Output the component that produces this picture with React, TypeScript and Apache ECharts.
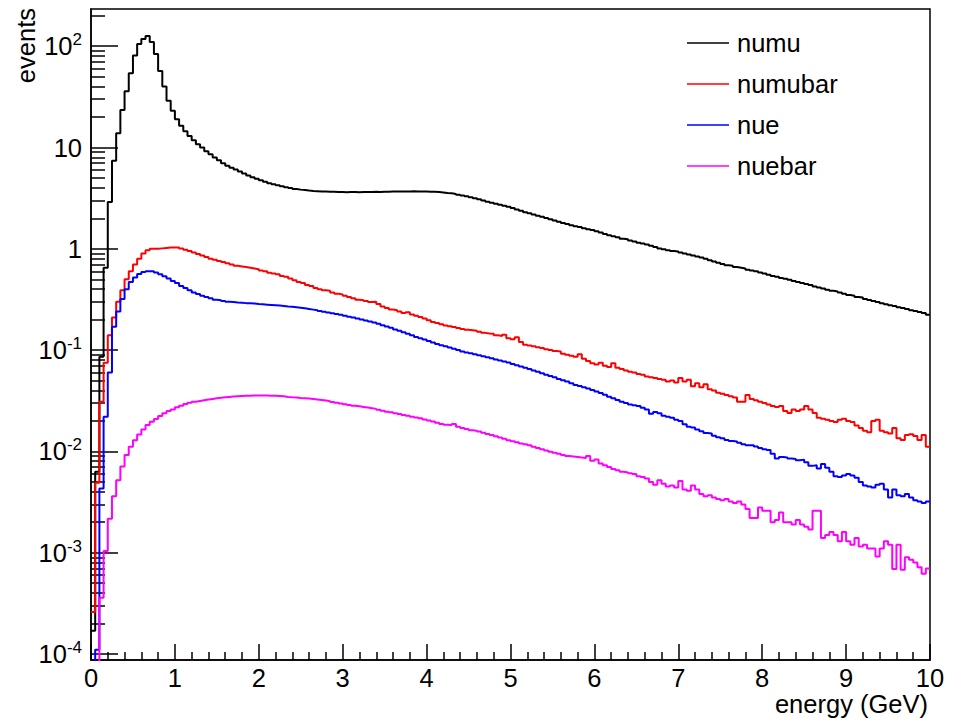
import React, { useEffect, useRef } from "react";
import * as echarts from "echarts";

// Histogram: 200 bins of 0.05 GeV from 0 to 10 GeV
const binWidth = 0.05;
const xMax = 10;

const numu = [
  0.00017, 0.0063, 0.086, 0.65, 2.9, 7.4, 13.8, 23.4, 36, 54,
  81, 105, 118, 126, 110, 84, 57, 40, 29, 23,
  19, 16.4, 14.5, 13, 11.8, 10.8, 10, 9.2, 8.6, 7.95,
  7.5, 7.0, 6.6, 6.3, 6.05, 5.8, 5.55, 5.3, 5.1, 4.93,
  4.75, 4.6, 4.45, 4.35, 4.25, 4.15, 4.05, 3.98, 3.9, 3.84,
  3.8, 3.76, 3.73, 3.71, 3.69, 3.68, 3.66, 3.65, 3.63, 3.64,
  3.62, 3.63, 3.63, 3.62, 3.64, 3.63, 3.63, 3.65, 3.64, 3.66,
  3.66, 3.67, 3.68, 3.67, 3.69, 3.69, 3.7, 3.69, 3.69, 3.68,
  3.66, 3.65, 3.63, 3.6, 3.56, 3.53, 3.48, 3.42, 3.36, 3.3,
  3.23, 3.15, 3.08, 3.0, 2.92, 2.85, 2.79, 2.72, 2.66, 2.6,
  2.53, 2.45, 2.38, 2.3, 2.24, 2.18, 2.12, 2.07, 2.01, 1.96,
  1.9, 1.85, 1.8, 1.76, 1.71, 1.67, 1.64, 1.6, 1.56, 1.53,
  1.49, 1.45, 1.4, 1.36, 1.33, 1.3, 1.26, 1.24, 1.21, 1.18,
  1.15, 1.13, 1.1, 1.07, 1.04, 1.01, 0.99, 0.97, 0.95, 0.94,
  0.92, 0.9, 0.88, 0.86, 0.84, 0.82, 0.8, 0.77, 0.75, 0.73,
  0.71, 0.69, 0.68, 0.66, 0.65, 0.64, 0.62, 0.61, 0.6, 0.585,
  0.57, 0.555, 0.54, 0.53, 0.515, 0.505, 0.495, 0.48, 0.47, 0.46,
  0.45, 0.44, 0.425, 0.415, 0.405, 0.395, 0.385, 0.38, 0.37, 0.36,
  0.35, 0.345, 0.335, 0.33, 0.32, 0.312, 0.305, 0.298, 0.29, 0.284,
  0.278, 0.272, 0.265, 0.26, 0.254, 0.248, 0.243, 0.238, 0.232, 0.224,
];

const numubar = [
  0.00026, 0.0049, 0.031, 0.075, 0.14, 0.21, 0.3, 0.39, 0.5, 0.6,
  0.7, 0.8, 0.9, 0.97, 1.0, 1.0, 1.01, 1.02, 1.03, 1.03,
  1.03, 1.01, 0.98, 0.95, 0.92, 0.89, 0.86, 0.83, 0.8, 0.78,
  0.76, 0.74, 0.72, 0.7, 0.68, 0.67, 0.66, 0.65, 0.64, 0.63,
  0.61, 0.6, 0.58, 0.57, 0.56, 0.54, 0.53, 0.51, 0.49, 0.47,
  0.46, 0.44, 0.43, 0.41, 0.4, 0.39, 0.385, 0.37, 0.36, 0.355,
  0.345, 0.335, 0.325, 0.315, 0.31, 0.305, 0.298, 0.3, 0.285, 0.27,
  0.26, 0.252, 0.248, 0.24, 0.232, 0.236, 0.225, 0.218, 0.212, 0.205,
  0.197, 0.19, 0.185, 0.18, 0.175, 0.172, 0.169, 0.165, 0.162, 0.159,
  0.157, 0.155, 0.152, 0.148, 0.146, 0.145, 0.14, 0.138, 0.142, 0.131,
  0.128, 0.134, 0.12, 0.113, 0.111, 0.109, 0.107, 0.105, 0.102, 0.1,
  0.098, 0.097, 0.092, 0.09, 0.088, 0.086, 0.091, 0.082, 0.078, 0.074,
  0.072, 0.075, 0.07, 0.068, 0.074, 0.067, 0.065, 0.063, 0.061, 0.06,
  0.058, 0.057, 0.055, 0.054, 0.053, 0.052, 0.051, 0.049, 0.05, 0.048,
  0.053, 0.049, 0.051, 0.044, 0.047, 0.043, 0.046, 0.041, 0.04, 0.038,
  0.037, 0.036, 0.035, 0.034, 0.031, 0.031, 0.036, 0.033, 0.032, 0.031,
  0.03, 0.029, 0.028, 0.0275, 0.028, 0.025, 0.024, 0.026, 0.025, 0.026,
  0.028, 0.026, 0.024, 0.0215, 0.021, 0.0205, 0.02, 0.0195, 0.0205, 0.021,
  0.02, 0.0195, 0.018, 0.017, 0.016, 0.0155, 0.02, 0.0205, 0.016, 0.0155,
  0.015, 0.017, 0.0135, 0.013, 0.0145, 0.0148, 0.0142, 0.013, 0.0145, 0.0111,
];

const nue = [
  1e-6, 0.00011, 0.0043, 0.022, 0.06, 0.17, 0.24, 0.32, 0.4, 0.47,
  0.52, 0.565, 0.59, 0.6, 0.6, 0.585, 0.56, 0.535, 0.51, 0.48,
  0.46, 0.43, 0.41, 0.39, 0.37, 0.358, 0.345, 0.335, 0.325, 0.315,
  0.31, 0.305, 0.3, 0.298, 0.295, 0.293, 0.291, 0.29, 0.288, 0.285,
  0.283, 0.281, 0.279, 0.277, 0.275, 0.273, 0.27, 0.268, 0.265, 0.262,
  0.259, 0.255, 0.251, 0.247, 0.243, 0.239, 0.235, 0.231, 0.227, 0.223,
  0.219, 0.214, 0.21, 0.205, 0.2, 0.196, 0.192, 0.187, 0.182, 0.176,
  0.171, 0.166, 0.16, 0.155, 0.15, 0.145, 0.14, 0.135, 0.131, 0.127,
  0.123, 0.119, 0.115, 0.112, 0.109, 0.106, 0.103, 0.1, 0.097, 0.095,
  0.093, 0.091, 0.089, 0.087, 0.085, 0.083, 0.081, 0.079, 0.077, 0.0754,
  0.073, 0.071, 0.069, 0.067, 0.065, 0.063, 0.061, 0.059, 0.057, 0.0555,
  0.054, 0.052, 0.0505, 0.049, 0.047, 0.0453, 0.0442, 0.043, 0.0418, 0.0405,
  0.039, 0.0378, 0.0362, 0.0347, 0.0335, 0.0322, 0.031, 0.03, 0.029, 0.0285,
  0.028, 0.027, 0.026, 0.0235, 0.0245, 0.0238, 0.0225, 0.022, 0.0215, 0.0205,
  0.02, 0.0185, 0.0175, 0.0172, 0.0165, 0.0158, 0.0152, 0.015, 0.0143, 0.0138,
  0.0135, 0.013, 0.0127, 0.0125, 0.0122, 0.0118, 0.0115, 0.0115, 0.0112, 0.0108,
  0.0105, 0.0103, 0.0095, 0.0085, 0.0088, 0.0087, 0.0085, 0.0084, 0.0082, 0.0083,
  0.0078, 0.0072, 0.0073, 0.0068, 0.0075, 0.0069, 0.0063, 0.0057, 0.0056, 0.0058,
  0.006, 0.0058, 0.0055, 0.005, 0.0046, 0.0045, 0.0044, 0.0047, 0.0048, 0.0042,
  0.0035, 0.0042, 0.0037, 0.0036, 0.0038, 0.0035, 0.0033, 0.0032, 0.0031, 0.0032,
];

const nuebar = [
  1e-6, 1e-6, 0.00036, 0.00104, 0.00217, 0.0036, 0.0052, 0.0071, 0.0092, 0.0111,
  0.0129, 0.0147, 0.0165, 0.0182, 0.0196, 0.0209, 0.0224, 0.0238, 0.025, 0.026,
  0.0273, 0.0283, 0.0294, 0.0303, 0.031, 0.0315, 0.032, 0.0325, 0.033, 0.0335,
  0.0338, 0.0342, 0.0345, 0.0348, 0.035, 0.0352, 0.0354, 0.0355, 0.0356, 0.0356,
  0.0357, 0.0356, 0.0355, 0.0355, 0.0353, 0.035, 0.0345, 0.0342, 0.034, 0.0337,
  0.0335, 0.0333, 0.033, 0.0326, 0.0322, 0.0318, 0.0313, 0.0308, 0.0303, 0.0298,
  0.0293, 0.0288, 0.0283, 0.0279, 0.0275, 0.0271, 0.0267, 0.0263, 0.0258, 0.0252,
  0.0247, 0.0243, 0.0238, 0.0234, 0.0229, 0.0225, 0.022, 0.0216, 0.0212, 0.0207,
  0.0202, 0.0197, 0.0192, 0.0186, 0.0183, 0.0182, 0.0186, 0.0175, 0.017, 0.0166,
  0.0162, 0.016, 0.0157, 0.0153, 0.0149, 0.0145, 0.0141, 0.0137, 0.0133, 0.0129,
  0.0126, 0.0123, 0.012, 0.0118, 0.0115, 0.0111, 0.0108, 0.0105, 0.0102, 0.0099,
  0.0097, 0.0095, 0.0092, 0.009, 0.0089, 0.0088, 0.0087, 0.0086, 0.009, 0.0081,
  0.0083, 0.0076, 0.0073, 0.007, 0.0067, 0.0065, 0.0063, 0.0062, 0.0061, 0.006,
  0.0057, 0.0056, 0.0054, 0.005, 0.0047, 0.0052, 0.0048, 0.0045, 0.0046, 0.0044,
  0.0051, 0.0042, 0.0041, 0.0046, 0.0042, 0.0038, 0.0036, 0.0037, 0.0035, 0.0034,
  0.0033, 0.0034, 0.0032, 0.0031, 0.0032, 0.003, 0.0027, 0.0022, 0.0022, 0.0028,
  0.0026, 0.0026, 0.002, 0.0021, 0.0025, 0.002, 0.002, 0.0019, 0.0021, 0.0019,
  0.0018, 0.0017, 0.0026, 0.0026, 0.0014, 0.0015, 0.0016, 0.0015, 0.0013, 0.0016,
  0.0013, 0.0012, 0.0014, 0.00115, 0.0012, 0.0011, 0.0011, 0.00092, 0.0011, 0.0013,
  0.0012, 0.00069, 0.0012, 0.00068, 0.0009, 0.00085, 0.0008, 0.00072, 0.00062, 0.0007,
];

const seriesNames = ["numu", "numubar", "nue", "nuebar"];
const seriesColors = ["#000000", "#ff0000", "#0000ff", "#ff00ff"];
const seriesValues = [numu, numubar, nue, nuebar];

const xTitle = "energy (GeV)";
const yTitle = "events";

const yMin = 8.73e-5;
const yMax = 233;
const yMajorTicks = [1e-4, 1e-3, 1e-2, 1e-1, 1, 10, 100];
const yMinorTicks = [
  2e-4, 3e-4, 4e-4, 5e-4, 6e-4, 7e-4, 8e-4, 9e-4,
  2e-3, 3e-3, 4e-3, 5e-3, 6e-3, 7e-3, 8e-3, 9e-3,
  2e-2, 3e-2, 4e-2, 5e-2, 6e-2, 7e-2, 8e-2, 9e-2,
  0.2, 0.3, 0.4, 0.5, 0.6, 0.7, 0.8, 0.9,
  2, 3, 4, 5, 6, 7, 8, 9,
  20, 30, 40, 50, 60, 70, 80, 90,
  200,
];

const FONT = "'Liberation Sans', Arial, Helvetica, sans-serif";
const FS = 25.5;

function histData(vals: number[]) {
  const pts: [number, number][] = vals.map((v, i) => [i * binWidth, v]);
  pts.push([xMax, vals[vals.length - 1]]);
  return pts;
}

function yLabel(v: number) {
  const e = Math.round(Math.log10(v));
  if (e === 0) return "{b|1}";
  if (e === 1) return "{b|10}";
  return "{b|10}{s|" + e + "}";
}

export default function App() {
  const ref = useRef<HTMLDivElement>(null);

  useEffect(() => {
    if (!ref.current) return;
    const chart = echarts.init(ref.current, null, { renderer: "svg" });
    const option: any = {
      animation: false,
      backgroundColor: "#ffffff",
      textStyle: { fontFamily: FONT },
      grid: {
        left: 91,
        right: 23,
        top: 9,
        bottom: 61,
        show: true,
        borderColor: "#000",
        borderWidth: 1.5,
        backgroundColor: "transparent",
        containLabel: false,
        outerBoundsMode: "none",
      },
      legend: {
        data: seriesNames,
        orient: "vertical",
        left: 687,
        top: 29,
        padding: 0,
        icon: "rect",
        itemWidth: 42,
        itemHeight: 1.5,
        itemGap: 13,
        selectedMode: false,
        textStyle: {
          fontFamily: FONT,
          fontSize: FS,
          color: "#000",
          lineHeight: 28,
          padding: [0, 0, 0, 3],
        },
      },
      xAxis: {
        type: "value",
        min: 0,
        max: xMax,
        interval: 1,
        axisLine: { show: true, lineStyle: { color: "#000", width: 1.5 } },
        axisTick: { show: true, inside: true, length: 16, lineStyle: { color: "#000", width: 1.5 } },
        minorTick: { show: true, splitNumber: 5, length: 8, lineStyle: { color: "#000", width: 1.5 } },
        axisLabel: { fontFamily: FONT, fontSize: FS, color: "#000", margin: 5 },
        splitLine: { show: false },
        minorSplitLine: { show: false },
      },
      yAxis: [
        {
          type: "log",
          min: yMin,
          max: yMax,
          position: "left",
          axisLine: { show: true, lineStyle: { color: "#000", width: 1.5 } },
          axisTick: {
            show: true,
            inside: true,
            length: 27,
            customValues: yMajorTicks,
            lineStyle: { color: "#000", width: 1.5 },
          },
          axisLabel: {
            show: true,
            margin: 9,
            customValues: yMajorTicks,
            formatter: yLabel,
            color: "#000",
            rich: {
              b: { fontFamily: FONT, fontSize: FS, color: "#000", lineHeight: 30 },
              s: {
                fontFamily: FONT,
                fontSize: 17,
                color: "#000",
                lineHeight: 18,
                verticalAlign: "top",
              },
            },
          },
          splitLine: { show: false },
        },
        {
          type: "log",
          min: yMin,
          max: yMax,
          position: "left",
          axisLine: { show: false },
          axisTick: {
            show: true,
            inside: true,
            length: 14,
            customValues: yMinorTicks,
            lineStyle: { color: "#000", width: 1.5 },
          },
          axisLabel: { show: false },
          splitLine: { show: false },
        },
      ],
      graphic: [
        {
          type: "text",
          x: 26,
          y: 8,
          rotation: Math.PI / 2,
          style: {
            text: yTitle,
            fontFamily: FONT,
            fontSize: FS,
            fill: "#000",
            align: "right",
            verticalAlign: "middle",
          },
        },
        {
          type: "text",
          x: 928,
          y: 704,
          style: {
            text: xTitle,
            fontFamily: FONT,
            fontSize: FS,
            fill: "#000",
            align: "right",
            verticalAlign: "middle",
          },
        },
      ],
      series: seriesNames.map((name, k) => ({
        name,
        type: "line",
        step: "end",
        yAxisIndex: 0,
        showSymbol: false,
        symbol: "none",
        clip: true,
        color: seriesColors[k],
        lineStyle: { color: seriesColors[k], width: 2 },
        data: histData(seriesValues[k]),
      })),
    };
    chart.setOption(option);
    return () => chart.dispose();
  }, []);

  return (
    <div
      ref={ref}
      style={{ position: "absolute", left: 0, top: 0, width: 953, height: 721 }}
    />
  );
}
